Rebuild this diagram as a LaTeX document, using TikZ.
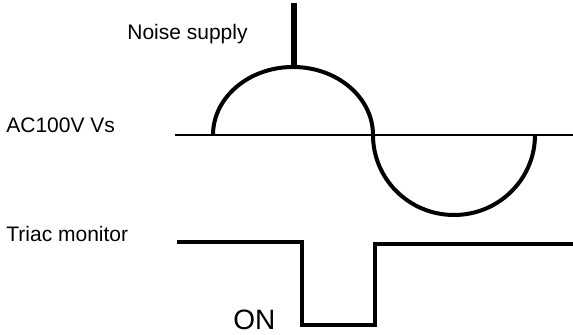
\documentclass[tikz,border=0pt]{standalone}
\usepackage{fontspec}
\setmainfont{Liberation Sans}
\usepackage{tikz}
\usetikzlibrary{positioning}

\begin{document}
\begin{tikzpicture}[x=0.5pt, y=0.5pt,
    sigtext/.style={inner sep=0pt, anchor=base west, font=\fontsize{10.5}{12}\selectfont},
    wave/.style={line width=2pt}]

    \useasboundingbox (0,0) rectangle (573,335);

    % signal names
    \node[sigtext] (noise) at (127,295) {Noise supply};
    \node[sigtext] (vs) at (6,202) {AC100V Vs};
    \node[sigtext] (triac) at (6,93) {Triac monitor};
    \node[sigtext, font=\fontsize{14}{16}\selectfont] (on) at (233,5) {ON};

    % AC line
    \path[draw, line width=1pt] (175,200) -- (573,200);
    \path[draw, wave] (213,200) arc[start angle=180, end angle=0, x radius=40pt, y radius=34pt]
        arc[start angle=180, end angle=360, x radius=40.5pt, y radius=40pt];

    % noise spike
    \path[draw, line width=3pt] (294,332) -- (294,268);

    % triac output
    \path[draw, wave, line width=1.8pt] (177,93) -- (302,93) -- (302,10) -- (375,10)
        -- (375,91) -- (573,91);

\end{tikzpicture}
\end{document}
